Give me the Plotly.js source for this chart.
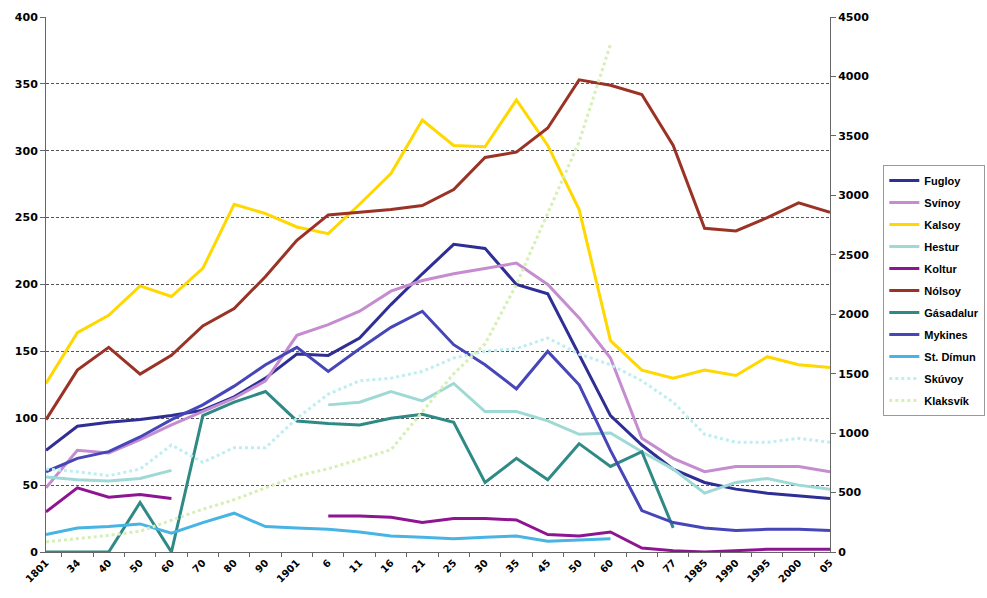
<!DOCTYPE html>
<html>
<head>
<meta charset="utf-8">
<script src="https://cdn.plot.ly/plotly-3.0.1.min.js"></script>
<style>html,body{margin:0;padding:0;background:#fff;}#chart{width:987px;height:598px;}</style>
</head>
<body>
<div id="chart"></div>
<script>
// Census years (categories) and their printed tick labels
const years = ["1801","1834","1840","1850","1860","1870","1880","1890","1901","1906","1911","1916","1921","1925","1930","1935","1945","1950","1960","1970","1977","1985","1990","1995","2000","2005"];
const tickLabels = ["1801","34","40","50","60","70","80","90","1901","6","11","16","21","25","30","35","45","50","60","70","77","1985","1990","1995","2000","05"];

// Left axis series
const fugloy    = [76,94,97,99,102,106,116,130,148,147,160,185,208,230,227,200,193,148,102,80,62,52,47,44,42,40];
const svinoy    = [48,76,74,84,95,105,115,128,162,170,180,195,203,208,212,216,200,175,145,85,70,60,64,64,64,60];
const kalsoy    = [126,164,177,199,191,212,260,253,243,238,260,283,323,304,303,338,304,256,158,136,130,136,132,146,140,138];
const hestur    = [56,54,53,55,61,null,null,null,null,110,112,120,113,126,105,105,98,88,89,75,62,44,52,55,50,47];
const koltur    = [30,48,41,43,40,null,null,null,null,27,27,26,22,25,25,24,13,12,15,3,1,0,1,2,2,2];
const nolsoy    = [99,136,153,133,147,169,182,206,233,252,254,256,259,271,295,299,317,353,349,342,304,242,240,250,261,254];
const gasadalur = [0,0,0,37,0,102,112,120,98,96,95,100,103,97,52,70,54,81,64,75,18,null,null,null,null,null];
const mykines   = [60,70,75,86,99,110,124,140,153,135,152,168,180,155,140,122,150,125,76,31,22,18,16,17,17,16];
const stdimun   = [13,18,19,21,14,22,29,19,18,17,15,12,11,10,11,12,8,9,10,null,null,null,null,null,null,null];
const skuvoy    = [62,60,57,62,80,67,78,78,100,118,128,130,135,145,150,152,160,148,140,128,112,88,82,82,85,82];
// Right axis series
const klaksvik  = [85,110,140,175,270,360,440,540,640,700,780,860,1180,1500,1750,2250,2850,3450,4270,null,null,null,null,null,null,null];

const series = [
  {name:"Fugloy",    y:fugloy,    color:"#2e2e94", dash:"solid"},
  {name:"Svínoy",    y:svinoy,    color:"#c58ccf", dash:"solid"},
  {name:"Kalsoy",    y:kalsoy,    color:"#ffd800", dash:"solid"},
  {name:"Hestur",    y:hestur,    color:"#9fd9d6", dash:"solid"},
  {name:"Koltur",    y:koltur,    color:"#8e1592", dash:"solid"},
  {name:"Nólsoy",    y:nolsoy,    color:"#9a3325", dash:"solid"},
  {name:"Gásadalur", y:gasadalur, color:"#2f8a85", dash:"solid"},
  {name:"Mykines",   y:mykines,   color:"#4646b8", dash:"solid"},
  {name:"St. Dímun", y:stdimun,   color:"#48b4e4", dash:"solid"},
  {name:"Skúvoy",    y:skuvoy,    color:"#bfeef2", dash:"dot"},
];

const traces = series.map(s => ({
  type:"scatter", mode:"lines", x:years, y:s.y, name:s.name, legendgroup:s.name,
  line:{color:s.color, width:3, dash:s.dash}, yaxis:"y"
}));
traces.push({
  type:"scatter", mode:"lines", x:years, y:klaksvik, name:"Klaksvík", legendgroup:"Klaksvík",
  line:{color:"#d6efb4", width:3, dash:"dot"}, yaxis:"y2"
});

const fam = "DejaVu Sans, Liberation Sans, Arial, sans-serif";
const xf = {family:fam, size:10, color:"#000", weight:"bold"};
const yf = {family:fam, size:11, color:"#000", weight:"bold"};
const lf = {family:"Liberation Sans, Arial, sans-serif", size:11, color:"#000", weight:"bold"};

const layout = {
  width:987, height:598,
  margin:{l:46, r:157, t:17, b:46, autoexpand:false},
  paper_bgcolor:"#fff", plot_bgcolor:"#fff",
  showlegend:true,
  xaxis:{
    type:"category", tickmode:"array", tickvals:years, ticktext:tickLabels,
    tickangle:-45, tickfont:xf, ticks:"outside", ticklen:4, tickcolor:"#666",
    tickson:"boundaries", showline:true, linecolor:"#666", linewidth:1,
    showgrid:false, zeroline:false
  },
  yaxis:{
    range:[0,400], dtick:50, tickfont:yf,
    ticks:"outside", ticklen:5, tickcolor:"#666",
    showline:true, linecolor:"#666", linewidth:1,
    showgrid:true, gridcolor:"#555", griddash:"3px,2px", gridwidth:1, zeroline:false
  },
  yaxis2:{
    overlaying:"y", side:"right", range:[0,4500], dtick:500, tickfont:yf,
    ticks:"outside", ticklen:5, tickcolor:"#666",
    showline:true, linecolor:"#666", linewidth:1, showgrid:false, zeroline:false
  },
  legend:{
    x:1.068, xanchor:"left", y:0.7234, yanchor:"top",
    font:lf, bordercolor:"#999", borderwidth:1, bgcolor:"#fff",
    itemwidth:30, traceorder:"grouped", tracegroupgap:3
  }
};

Plotly.newPlot("chart", traces, layout, {displayModeBar:false, staticPlot:true});
</script>
</body>
</html>
